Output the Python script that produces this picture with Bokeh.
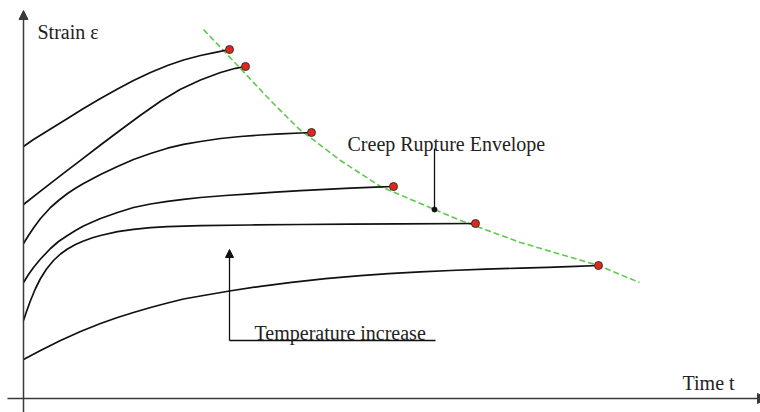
from bokeh.plotting import figure
from bokeh.models import Range1d, Arrow, NormalHead, Label
from bokeh.embed import file_html
from bokeh.resources import INLINE

# Creep curves: time t vs strain e (arbitrary units), one pair of lists per
# temperature; curve "f" is the coldest (longest life), curve "a" the hottest.
t_f = [0, 17, 37, 57, 77, 94, 110, 127, 144, 160, 177, 206, 237, 268, 302, 337,
       365, 397, 427, 462, 497, 524, 552, 575]
e_f = [39, 48, 58, 67, 75, 81, 86, 91, 95.5, 99.5, 102.5, 107.5, 112.2, 116.2,
       119.8, 122.8, 124.8, 126.6, 128, 129.3, 130.4, 131.2, 132.1, 133]

t_e = [0, 3, 7, 12, 17, 23, 30, 37, 44, 52, 60, 69, 77, 94, 110, 127, 144, 177,
       227, 277, 327, 377, 452]
e_e = [78, 87, 98, 110, 120, 129.5, 138, 144.5, 149.5, 154, 157.5, 160.7, 163,
       166.8, 169.2, 170.8, 171.8, 172.8, 173.5, 174, 174.4, 174.7, 175]

t_d = [0, 5, 10, 17, 27, 35, 44, 52, 60, 69, 77, 94, 110, 127, 144, 160, 177,
       202, 227, 252, 277, 302, 327, 352, 370]
e_d = [116, 124, 131, 139.5, 150, 157, 163, 168, 172.5, 176.5, 180, 186, 191,
       194.5, 197.2, 199.2, 201, 203, 204.7, 206.3, 207.8, 209.2, 210.4, 211.4, 212]

t_c = [0, 5, 10, 17, 27, 35, 44, 52, 60, 69, 77, 94, 110, 127, 144, 160, 177,
       197, 217, 237, 257, 277, 288]
e_c = [155, 163, 170.5, 180, 191, 198, 205, 210.2, 215, 219.8, 224, 232, 239,
       245, 250.3, 254.2, 257, 260, 262, 263.5, 264.7, 265.5, 266]

t_b = [0, 17, 37, 57, 77, 97, 117, 137, 157, 177, 197, 212, 222]
e_b = [194, 207.3, 222.8, 238.2, 253.5, 268.5, 283.2, 297.2, 309.2, 318.5, 326,
       330.2, 332]

t_a = [0, 10, 27, 44, 60, 77, 94, 110, 127, 144, 160, 177, 192, 206]
e_a = [252, 259, 269.5, 280, 290, 300, 309.5, 318, 326, 333, 338.5, 343, 346.2, 349]

curves_t = [t_a, t_b, t_c, t_d, t_e, t_f]
curves_e = [e_a, e_b, e_c, e_d, e_e, e_f]

# Rupture points (end of each curve)
rupture_t = [206, 222, 288, 370, 452, 575]
rupture_e = [349, 332, 266, 212, 175, 133]

# Creep rupture envelope
env_t = [180, 200, 215, 247, 275, 317, 357, 411, 437, 497, 575, 616]
env_e = [369, 348, 332, 298, 270, 238, 212, 189, 178, 156, 133, 116]

FONT = "Liberation Serif"
INK = "#111111"

p = figure(width=760, height=412, output_backend="svg", toolbar_location=None,
           x_range=Range1d(-23, 737), y_range=Range1d(-14, 398),
           x_axis_type=None, y_axis_type=None, min_border=0)
p.grid.visible = False
p.outline_line_color = None
p.background_fill_color = "white"
p.border_fill_color = "white"

# Axes drawn as arrows
axis_col = "#3a3a3a"
p.add_layout(Arrow(end=NormalHead(size=9, fill_color=axis_col, line_color=axis_col),
                   x_start=0, y_start=-14, x_end=0, y_end=388,
                   line_color=axis_col, line_width=1.5))
p.add_layout(Arrow(end=NormalHead(size=10, fill_color=axis_col, line_color=axis_col),
                   x_start=-16, y_start=0, x_end=744, y_end=0,
                   line_color=axis_col, line_width=1.5))

# Envelope
p.line(env_t, env_e, line_color="#5ec94c", line_width=1.6, line_dash="6 3")

# Creep curves
for ts, es in zip(curves_t, curves_e):
    p.line(ts, es, line_color=INK, line_width=1.7, line_join="round")

# Rupture markers
p.scatter(rupture_t, rupture_e, size=8, fill_color="#e3261c",
          line_color="#333333", line_width=1)

# Envelope leader
p.segment(x0=[411], y0=[250], x1=[411], y1=[189], line_color=INK, line_width=1.3)
p.scatter([411], [189], size=5, fill_color=INK, line_color=INK)

# Temperature arrow with underline
p.add_layout(Arrow(end=NormalHead(size=8, fill_color=INK, line_color=INK),
                   x_start=206, y_start=58, x_end=206, y_end=149,
                   line_color=INK, line_width=1.3))
p.segment(x0=[206], y0=[58], x1=[412], y1=[58], line_color=INK, line_width=1.3)


def label(x, y, txt):
    p.add_layout(Label(x=x, y=y, text=txt, text_font=FONT, text_font_size="20px",
                       text_color="#222222", text_baseline="alphabetic",
                       text_align="left"))


label(14, 367, "Strain ε")
label(324, 255, "Creep Rupture Envelope")
label(231, 66, "Temperature increase")
label(659, 16, "Time t")

open("out.html", "w").write(file_html(p, INLINE))
